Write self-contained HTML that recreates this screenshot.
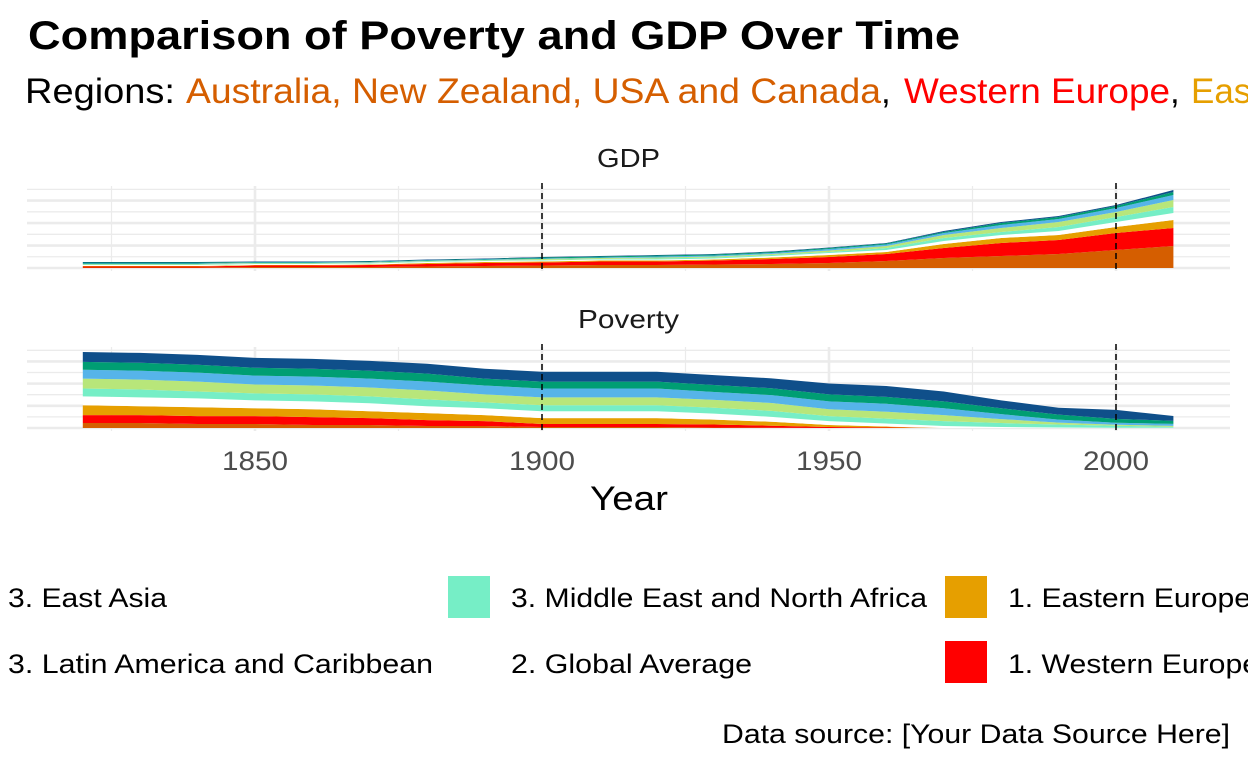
<!DOCTYPE html>
<html><head><meta charset="utf-8"><style>
html,body{margin:0;padding:0;background:#fff;width:1248px;height:768px;overflow:hidden}
svg{display:block;font-family:"Liberation Sans",sans-serif}
</style></head><body>
<svg id="chart" width="1248" height="768" viewBox="0 0 1248 768">
<text x="28" y="49" font-size="40" font-weight="bold" textLength="932" lengthAdjust="spacingAndGlyphs">Comparison of Poverty and GDP Over Time</text>
<text y="103" font-size="35"><tspan x="25" textLength="150" lengthAdjust="spacingAndGlyphs">Regions:</tspan><tspan x="186" fill="#D55E00" textLength="695" lengthAdjust="spacingAndGlyphs">Australia, New Zealand, USA and Canada</tspan><tspan x="881">,</tspan><tspan x="904" fill="#FF0000" textLength="266" lengthAdjust="spacingAndGlyphs">Western Europe</tspan><tspan x="1170">,</tspan><tspan x="1191" fill="#E69F00">Eastern Europe</tspan></text>
<g id="panels"></g>
<text x="597" y="167" font-size="26" fill="#1a1a1a" textLength="63" lengthAdjust="spacingAndGlyphs">GDP</text>
<text x="578" y="328" font-size="26" fill="#1a1a1a" textLength="101" lengthAdjust="spacingAndGlyphs">Poverty</text>
<text x="590" y="510" font-size="34" textLength="78" lengthAdjust="spacingAndGlyphs">Year</text>
<g font-size="27">
<text x="8" y="607" textLength="159" lengthAdjust="spacingAndGlyphs">3. East Asia</text>
<rect x="448" y="576" width="42" height="42" fill="#76EEC6"/>
<text x="511" y="607" textLength="416" lengthAdjust="spacingAndGlyphs">3. Middle East and North Africa</text>
<rect x="945" y="576" width="42" height="42" fill="#E69F00"/>
<text x="1008" y="607" textLength="243" lengthAdjust="spacingAndGlyphs">1. Eastern Europe</text>
<text x="8" y="673" textLength="425" lengthAdjust="spacingAndGlyphs">3. Latin America and Caribbean</text>
<text x="511" y="673" textLength="241" lengthAdjust="spacingAndGlyphs">2. Global Average</text>
<rect x="945" y="641" width="42" height="42" fill="#FF0000"/>
<text x="1008" y="673" textLength="251" lengthAdjust="spacingAndGlyphs">1. Western Europe</text>
</g>
<text x="722" y="743" font-size="27" textLength="508" lengthAdjust="spacingAndGlyphs">Data source: [Your Data Source Here]</text>
</svg>
<script>
const years=[1820,1830,1840,1850,1860,1870,1880,1890,1900,1910,1920,1930,1940,1950,1960,1970,1980,1990,2000,2010];
const layerNames=['australia-nz-usa-canada','western-europe','eastern-europe','global-average','mena','latin-america','east-asia','south-asia','sub-saharan-africa'];
const layerColors=['#D55E00','#FF0000','#E69F00','#FFFFFF','#76EEC6','#B8E67A','#56B4E9','#009E73','#0F4F8A'];
const gdpAus=[0.5,0.5,0.5,1,1,1,1.5,2,2.5,3,3,3.5,4,5,7,10,12,14,18,22];
const gdpWest=[1,1,1,1.5,1.5,2,2.5,3,3,3.5,3.5,4,5,6,7,10,13,14,17,18];
const gdpEast=[0.5,0.5,0.5,0.5,0.5,0.5,1,1,1,1,1,1,1.5,2,2,4,5,5,6,8];
const gdpGlobal=[1,1,1,1,1,1,1,1,1,1,1,1,1.5,2,2,3,3,4,5,7];
const gdpMena=[0.5,0.5,0.5,0.5,0.5,0.5,0.5,0.5,0.5,0.5,1,1,1,1,2,3,3,4,5,6];
const gdpLatin=[0.5,0.5,0.5,0.5,0.5,0.5,0.5,0.5,1,1,1,1,1,1.5,2,3,4,5,5,7];
const gdpEastAsia=[0.5,0.5,0.5,0.5,0.5,0.5,0.5,0.5,0.5,0.5,1,1,1,1.5,1.5,2,3,3,4,5];
const gdpSouthAsia=[1,1,1,0.5,0.5,0.5,0.5,0.5,1,1,1,1,1,1,1,1,2,2,2,3];
const gdpAfrica=[0.5,0.5,0.5,0.5,0.5,0.5,0.5,0.5,0.5,0.5,0.5,0.5,0.5,0.5,0.5,1,1,1,1,2];
const povAus=[5,5,4,4,3,3,2,2,1,1,1,0.5,0.3,0,0,0,0,0,0,0];
const povWest=[8,8,8,8,8,7,6,5,3,3,3,3,2,1,0.5,0,0,0,0,0];
const povEast=[10,9,9,8,8,7,7,6,6,6,6,5,4,2,1,0,0,0,0,0];
const povGlobal=[9,9,9,8,8,8,7,7,7,7,7,6,5,4,3,2,1,0.5,0.3,0.2];
const povMena=[8,8,7,7,7,7,7,6,6,6,6,6,6,5,5,5,4,3,2,1];
const povLatin=[10,10,10,9,9,9,9,8,8,8,8,8,8,7,7,6,4,2,1,1];
const povEastAsia=[9,9,9,9,9,9,9,9,9,9,9,8,8,8,8,7,5,3,2,2];
const povSouthAsia=[8,8,8,8,8,8,8,7,7,7,7,7,7,7,7,7,6,5,4,3];
const povAfrica=[10,10,10,10,10,10,10,10,10,10,10,10,10,11,11,10,8,7,9,5];
const xTicks=[1850,1900,1950,2000];
const xMinor=[1825,1875,1925,1975];
const refYears=[1900,2000];
const yMax=82;

const NS='http://www.w3.org/2000/svg';
const g=document.getElementById('panels');
const xs=v=>255+(v-1850)*(1116-255)/150;
function mk(t,a,p){const e=document.createElementNS(NS,t);for(const k in a)e.setAttribute(k,a[k]);(p||g).appendChild(e);return e;}
const panels=[
 {name:'gdp',base:268,top:186,layers:[gdpAus,gdpWest,gdpEast,gdpGlobal,gdpMena,gdpLatin,gdpEastAsia,gdpSouthAsia,gdpAfrica]},
 {name:'poverty',base:428,top:347,layers:[povAus,povWest,povEast,povGlobal,povMena,povLatin,povEastAsia,povSouthAsia,povAfrica]}
];
panels.forEach(p=>{
 const ys=v=>p.base-v*(p.base-p.top)/yMax;
 const pg=mk('g',{});
 
 
 for(let i=0;i<8;i++){
  const v=i*yMax/7.3;const y=ys(v);
  const l=mk('line',{x1:27,x2:1230,y1:y,y2:y,stroke:'#ebebeb','stroke-width':i%2==0?2.6:1.3},pg);
  
  
 }
 xMinor.forEach(t=>{const l=mk('line',{x1:xs(t),x2:xs(t),y1:p.top,y2:p.base+3,stroke:'#ebebeb','stroke-width':1.2},pg);
  
  });
 xTicks.forEach(t=>{const l=mk('line',{x1:xs(t),x2:xs(t),y1:p.top,y2:p.base+3,stroke:'#ebebeb','stroke-width':2.6},pg);
  
  });
 let cum=years.map(()=>0);
 p.layers.forEach((arr,li)=>{
  const lower=cum.slice();cum=cum.map((c,i)=>c+arr[i]);
  let pts=years.map((y,i)=>xs(y)+','+ys(cum[i]));
  for(let i=years.length-1;i>=0;i--)pts.push(xs(years[i])+','+ys(lower[i]));
  const poly=mk('polygon',{points:pts.join(' '),fill:layerColors[li]},pg);
  
  
 });
 refYears.forEach(t=>{const l=mk('line',{x1:xs(t),x2:xs(t),y1:p.top-3,y2:p.base+3,stroke:'#000','stroke-width':1.5,'stroke-dasharray':'6,4'},pg);
  
  });
});
xTicks.forEach(t=>{const e=mk('text',{x:xs(t)-33,y:470,'font-size':27,fill:'#4d4d4d',textLength:66,lengthAdjust:'spacingAndGlyphs'});e.textContent=t;
 
 });
</script>
</body></html>
